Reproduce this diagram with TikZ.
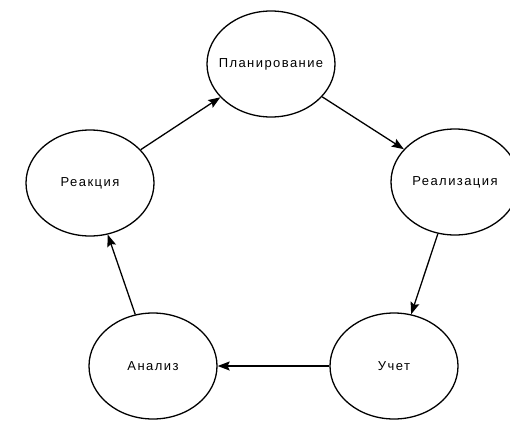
\documentclass[tikz,border=0pt]{standalone}
\usepackage{fontspec}
\setmainfont{Liberation Sans}[LetterSpace=11]
\usetikzlibrary{shapes.geometric,arrows.meta}
\newcommand{\zw}[1]{\makebox[0pt]{#1}}
\begin{document}
\begin{tikzpicture}[x=1pt,y=-1pt,
  stage/.style={draw=black, line width=1.3pt, ellipse, minimum width=128pt, minimum height=106pt, inner sep=0pt, font=\fontsize{13}{15}\selectfont},
  link/.style={line width=1.3pt, -{Stealth[length=12pt,width=9pt,inset=2pt]}}]
\useasboundingbox (0,0) rectangle (510,420);
\fill[white] (0,0) rectangle (510,420);
\node[stage] (plan) at (271,64) {\zw{Планирование}};
\node[stage] (real) at (455,182) {\zw{Реализация}};
\node[stage] (uchet) at (394,366) {\zw{Учет}};
\node[stage] (anal) at (153,366) {\zw{Анализ}};
\node[stage] (reak) at (90,183) {\zw{Реакция}};
\draw[link] (reak) -- (plan);
\draw[link] (plan) -- (real);
\draw[link] (real) -- (uchet);
\draw[link] (uchet) -- (anal);
\draw[link] (anal) -- (reak);
\end{tikzpicture}
\end{document}
